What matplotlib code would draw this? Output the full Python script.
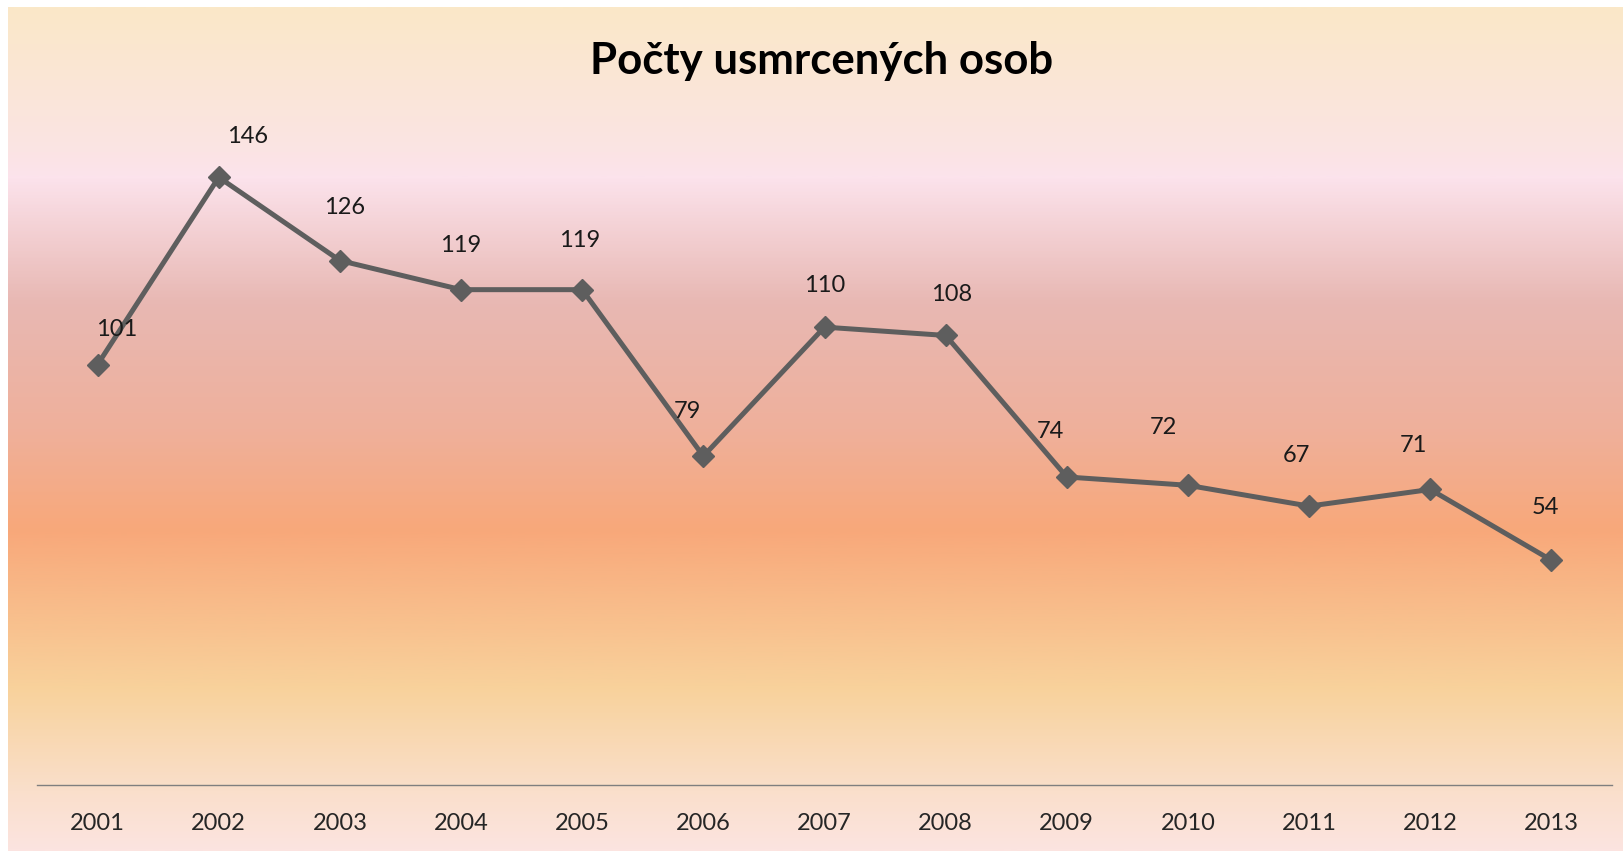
import matplotlib
matplotlib.use('Agg')
import matplotlib.pyplot as plt
from matplotlib.colors import LinearSegmentedColormap
import numpy as np

plt.rcParams['font.family'] = ['Lato', 'DejaVu Sans']

years = ['2001', '2002', '2003', '2004', '2005', '2006', '2007',
         '2008', '2009', '2010', '2011', '2012', '2013']
deaths = [101, 146, 126, 119, 119, 79, 110, 108, 74, 72, 67, 71, 54]
title = 'Počty usmrcených osob'

# label offsets (pixels) relative to the marker, as placed in the original
label_dx = [19, 29, 5, 0, -3, -16, 0, 6, -16, -25, -13, -17, -6]
label_dy = [35, 41, 53, 44, 49, 45, 42, 41, 45, 58, 51, 44, 53]

fig = plt.figure(figsize=(16.23, 8.51), dpi=100)
fig.patch.set_facecolor('white')

# gradient background
bg = fig.add_axes([8 / 1623, 0, 1 - 8 / 1623, 1 - 7 / 851])
stops = [(0.0, '#fae8c8'), (0.17, '#fbe4e4'), (0.20, '#fce3ec'),
         (0.35, '#e8b8b3'), (0.50, '#efb09b'), (0.62, '#f8a87a'),
         (0.81, '#f8d29c'), (0.93, '#fadfcb'), (1.0, '#fce4e0')]
cmap = LinearSegmentedColormap.from_list('bg', stops)
grad = np.linspace(0, 1, 512).reshape(-1, 1)
bg.imshow(grad, cmap=cmap, aspect='auto', extent=[0, 1, 0, 1])
bg.axis('off')

ax = fig.add_axes([37 / 1623, 1 - 785 / 851, 1575 / 1623, 666 / 851])
ax.patch.set_alpha(0)
x = np.arange(len(years))
ax.plot(x, deaths, color='#5e5e5e', lw=3.6, marker='D', markersize=11.5,
        zorder=3)
for xi, v, dx, dy in zip(x, deaths, label_dx, label_dy):
    ax.annotate(str(v), (xi, v), xytext=(dx, dy), textcoords='offset pixels',
                ha='center', va='center', fontsize=17, color='#1a1a1a')

ax.set_xlim(-0.5, len(years) - 0.5)
ax.set_ylim(0, 160)
ax.set_xticks(x)
ax.set_xticklabels(years, fontsize=17, color='#262626')
ax.tick_params(axis='x', length=0, pad=20)
ax.set_yticks([])
for s in ['top', 'right', 'left']:
    ax.spines[s].set_visible(False)
ax.spines['bottom'].set_color('#7f7f7f')
ax.spines['bottom'].set_linewidth(1.0)

fig.text(822 / 1623, 1 - 61 / 851, title, ha='center', va='center',
         fontsize=31.5, fontweight='bold', color='black')

fig.savefig('out.png', dpi=100)
